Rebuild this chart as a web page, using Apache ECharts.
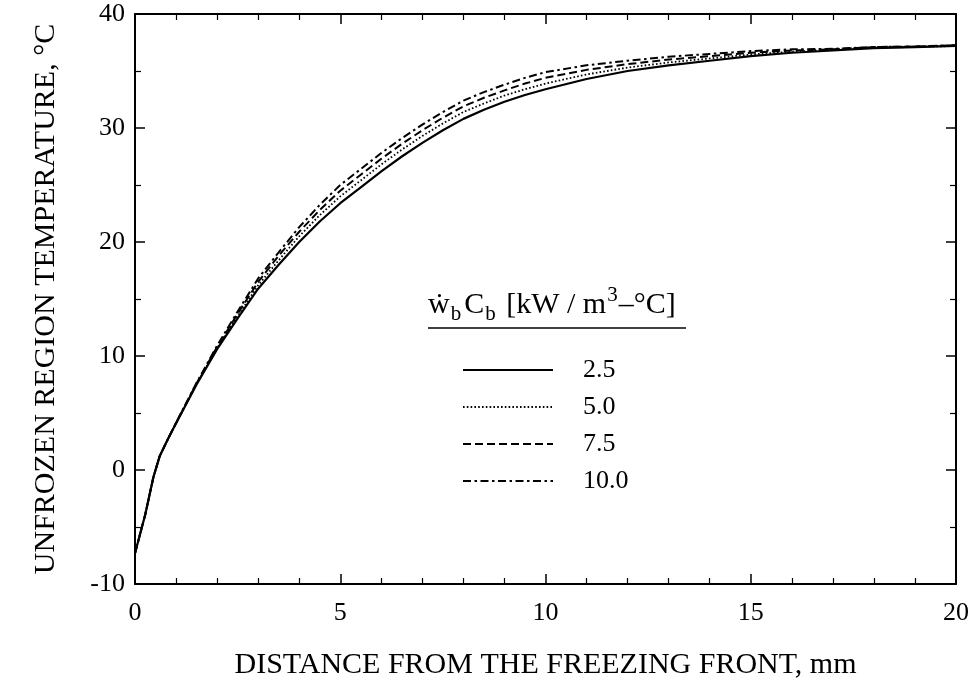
<!DOCTYPE html>
<html>
<head>
<meta charset="utf-8">
<script src="https://cdn.jsdelivr.net/npm/echarts@6/dist/echarts.min.js"></script>
<style>html,body{margin:0;padding:0;background:#fff;}#c{width:974px;height:688px;}</style>
</head>
<body>
<div id="c"></div>
<script>
// Distance from the freezing front, mm
var distance = [0,0.25,0.45,0.6,0.8,1,1.5,2,2.5,3,3.5,4,4.5,5,5.5,6,6.5,7,7.5,8,8.5,9,9.5,10,11,12,13,14,15,16,17,18,19,20];
// Unfrozen region temperature, °C, for each w_b C_b value
var temp25 = [-7.3,-3.9,-0.6,1.2,2.7,4.1,7.5,10.6,13.3,15.9,18.0,20.0,21.8,23.4,24.8,26.2,27.5,28.7,29.8,30.8,31.6,32.3,32.9,33.4,34.3,35.0,35.5,35.9,36.3,36.6,36.8,37.0,37.1,37.2];
var temp50 = [-7.3,-3.9,-0.6,1.2,2.7,4.1,7.55,10.7,13.5,16.2,18.4,20.5,22.35,24.0,25.4,26.8,28.1,29.3,30.4,31.4,32.15,32.85,33.4,33.9,34.7,35.3,35.75,36.1,36.45,36.7,36.85,37.05,37.1,37.2];
var temp75 = [-7.3,-3.9,-0.6,1.2,2.7,4.1,7.6,10.8,13.7,16.5,18.8,20.9,22.8,24.5,25.9,27.3,28.6,29.8,30.9,31.9,32.65,33.3,33.9,34.4,35.1,35.6,36.0,36.3,36.6,36.8,36.9,37.1,37.15,37.25];
var temp100 = [-7.3,-3.9,-0.6,1.2,2.7,4.15,7.65,10.9,13.9,16.8,19.1,21.3,23.25,25.0,26.4,27.8,29.1,30.3,31.4,32.4,33.15,33.8,34.4,34.9,35.5,35.9,36.25,36.5,36.75,36.9,36.95,37.1,37.15,37.25];
var seriesNames = ['2.5','5.0','7.5','10.0'];
var xTitle = 'DISTANCE FROM THE FREEZING FRONT, mm';
var yTitle = 'UNFROZEN REGION TEMPERATURE, °C';

function pairs(ys){ return distance.map(function(x,i){ return [x, ys[i]]; }); }

var FONT = '"Liberation Serif", "DejaVu Serif", serif';
function minor(n){ return {show: true, splitNumber: n, length: 6, lineStyle: {color: '#000', width: 1.2}}; }
function ax(extra){
  return Object.assign({
    type: 'value',
    axisLine: {show: true, onZero: false, lineStyle: {color: '#000', width: 2}},
    axisTick: {show: true, inside: true, length: 10, lineStyle: {color: '#000', width: 1.5}},
    splitLine: {show: false},
    minorSplitLine: {show: false}
  }, extra);
}

var chart = echarts.init(document.getElementById('c'), null, {renderer: 'canvas'});
chart.setOption({
  backgroundColor: '#fff',
  animation: false,
  grid: {left: 135, right: 18, top: 14, bottom: 104, containLabel: false},
  xAxis: [
    ax({position: 'bottom', min: 0, max: 20, interval: 5, minorTick: minor(5),
      axisLabel: {color: '#000', fontFamily: FONT, fontSize: 26, margin: 16},
      name: xTitle, nameLocation: 'middle', nameGap: 66,
      nameTextStyle: {color: '#000', fontFamily: FONT, fontSize: 30}}),
    ax({position: 'top', min: 0, max: 20, interval: 5, minorTick: minor(5), axisLabel: {show: false}})
  ],
  yAxis: [
    ax({position: 'left', min: -10, max: 40, interval: 10, minorTick: minor(2),
      axisLabel: {color: '#000', fontFamily: FONT, fontSize: 26, margin: 10},
      name: yTitle, nameLocation: 'middle', nameGap: 74, nameRotate: 90,
      nameTextStyle: {color: '#000', fontFamily: FONT, fontSize: 30}}),
    ax({position: 'right', min: -10, max: 40, interval: 10, minorTick: minor(2), axisLabel: {show: false}})
  ],
  legend: {
    orient: 'vertical', left: 462, top: 357, padding: 0,
    itemWidth: 90, itemHeight: 14, itemGap: 11,
    itemStyle: {opacity: 0, color: 'rgba(0,0,0,0)', borderWidth: 0},
    textStyle: {color: '#000', fontFamily: FONT, fontSize: 26, lineHeight: 26, padding: [0,0,0,25]},
    data: seriesNames
  },
  graphic: [
    {type: 'text', left: 428, top: 285, style: {
      text: '{b|ẇ}{s|b}{b|C}{s|b}{b| [kW / m}{p|3}{b|–°C]}',
      fill: '#000', font: '30px ' + FONT,
      rich: {
        b: {fontFamily: FONT, fontSize: 30, lineHeight: 40, verticalAlign: 'middle', fill: '#000'},
        s: {fontFamily: FONT, fontSize: 21, lineHeight: 20, verticalAlign: 'bottom', fill: '#000', padding: [0, 3, 0, 1]},
        p: {fontFamily: FONT, fontSize: 21, lineHeight: 20, verticalAlign: 'top', fill: '#000', padding: [0, 1, 0, 1]}
      }
    }},
    {type: 'line', shape: {x1: 428, y1: 328, x2: 686, y2: 328}, style: {stroke: '#000', lineWidth: 1.5}}
  ],
  series: [
    {name: seriesNames[0], type: 'line', data: pairs(temp25), symbol: 'none',
      lineStyle: {color: '#000', width: 2.2, type: 'solid'}, itemStyle: {color: '#000'}},
    {name: seriesNames[1], type: 'line', data: pairs(temp50), symbol: 'none',
      lineStyle: {color: '#000', width: 1.8, type: [1.6, 2.2]}, itemStyle: {color: '#000'}},
    {name: seriesNames[2], type: 'line', data: pairs(temp75), symbol: 'none',
      lineStyle: {color: '#000', width: 2, type: [8, 4]}, itemStyle: {color: '#000'}},
    {name: seriesNames[3], type: 'line', data: pairs(temp100), symbol: 'none',
      lineStyle: {color: '#000', width: 2, type: [8, 3.5, 2.5, 3.5]}, itemStyle: {color: '#000'}}
  ]
});
</script>
</body>
</html>
